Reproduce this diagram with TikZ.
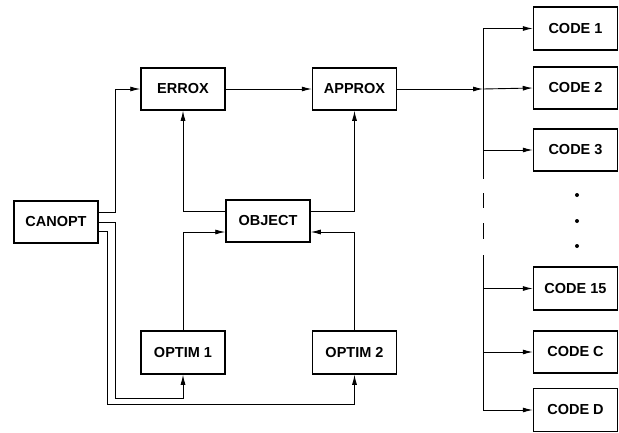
\documentclass[tikz,border=0pt]{standalone}
\usepackage{fontspec}
\setmainfont{Liberation Sans}
\usetikzlibrary{arrows.meta}
\tikzset{
  blk/.style={draw, line width=1.5pt, minimum width=84pt, minimum height=42pt, inner sep=0pt, font=\fontsize{14.5}{16}\selectfont\bfseries},
  conn/.style={line width=0.9pt},
  arr/.style={conn, -{Latex[length=10pt,width=5pt]}},
}
\begin{document}
\begin{tikzpicture}[x=1pt,y=-1pt]
\useasboundingbox (0,0) rectangle (619,432);
% blocks
\node[blk] (canopt) at (56,222) {CANOPT};
\node[blk] (errox) at (183,89) {ERROX};
\node[blk] (approx) at (354.5,89) {APPROX};
\node[blk] (object) at (268,221) {OBJECT};
\node[blk, minimum height=43pt] (optim1) at (183,352.5) {OPTIM 1};
\node[blk, minimum height=43pt] (optim2) at (354.5,352.5) {OPTIM 2};
\node[blk, minimum height=43pt] (code1) at (575.5,28.5) {CODE 1};
\node[blk] (code2) at (575.5,88) {CODE 2};
\node[blk] (code3) at (575.5,150) {CODE 3};
\node[blk, minimum height=43pt] (code15) at (575.5,288.5) {CODE 15};
\node[blk] (codec) at (575.5,352) {CODE C};
\node[blk, minimum height=43pt] (coded) at (575.5,410) {CODE D};
% bus coordinates
\coordinate (bx) at (483,0);
\coordinate (busin) at (approx.east -| bx);
% CANOPT connections
\draw[arr] ([yshift=10pt]canopt.east) -- ++(16.5,0) |- (errox.west);
\draw[arr] (canopt.east) -- ++(16.5,0) -- ++(0,176) -| (optim1.south);
\draw[arr] ([yshift=-9pt]canopt.east) -- ++(8.5,0) -- ++(0,173) -| (optim2.south);
% OBJECT connections
\draw[arr] ([yshift=10pt]object.west) -| (errox.south);
\draw[arr] ([yshift=10pt]object.east) -| (approx.south);
\draw[arr] (optim1.north) |- ([yshift=-11pt]object.west);
\draw[arr] (optim2.north) |- ([yshift=-11pt]object.east);
% main flow
\draw[arr] (errox) -- (approx);
\draw[arr] (approx.east) -- (busin);
\draw[arr] (busin) -- (code2.west);
% bus
\draw[conn] (code1.west -| bx) -- (483,179);
\draw[conn] (483,193) -- (483,208);
\draw[conn] (483,223) -- (483,239);
\draw[conn] (483,255) -- (coded.west -| bx);
\draw[arr] (code1.west -| bx) -- (code1.west);
\draw[arr] (code3.west -| bx) -- (code3.west);
\draw[arr] (code15.west -| bx) -- (code15.west);
\draw[arr] (codec.west -| bx) -- (codec.west);
\draw[arr] (coded.west -| bx) -- (coded.west);
% dots
\fill (577,195) circle (2pt);
\fill (577,221) circle (2pt);
\fill (577,246) circle (2pt);
\end{tikzpicture}
\end{document}
